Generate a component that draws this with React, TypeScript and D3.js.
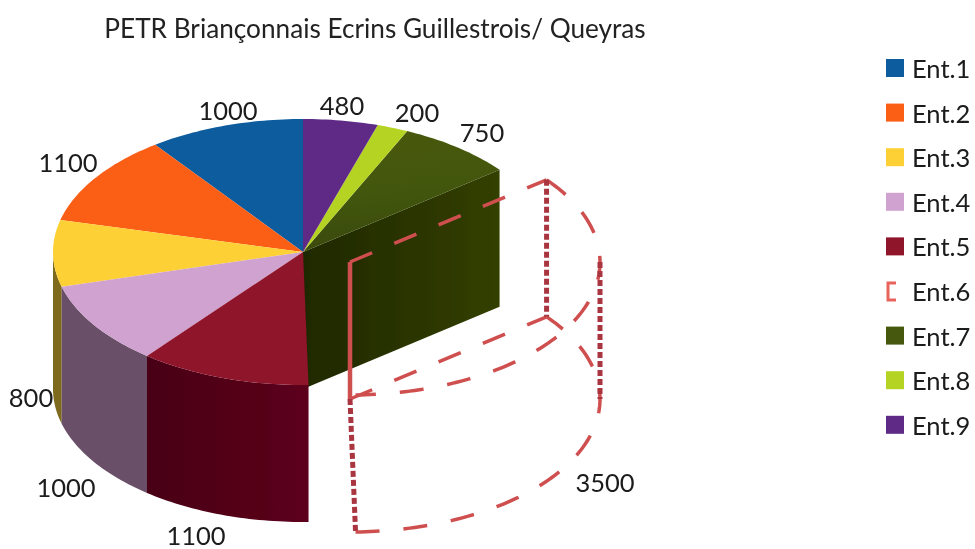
import React from "react";
import * as d3 from "d3";

const titleText = "PETR Briançonnais Ecrins Guillestrois/ Queyras";
const categories = ["Ent.1", "Ent.2", "Ent.3", "Ent.4", "Ent.5", "Ent.6", "Ent.7", "Ent.8", "Ent.9"];
const values = [1000, 1100, 800, 1000, 1100, 3500, 750, 200, 480];
const topColors = ["#0a5c9e", "#fb5e17", "#fdd134", "#cfa2d0", "#8f132b", "none", "url(#g7top)", "#b5d321", "#5e2c86"];
const sideColors = ["#063a66", "#9c3a0e", "#7d6b1e", "#6a5068", "url(#g5side)", "none", "#2a3500", "#70841a", "#3a1b55"];
const legendColors = ["#0a5c9e", "#fb5e17", "#fdd134", "#cfa2d0", "#8f132b", "#e8645c", "#455810", "#b5d321", "#5e2c86"];
// value label anchor points, in slice order
const labelX = [228, 68, 31, 66, 196, 605, 482, 417, 342];
const labelY = [110, 162, 397, 487, 535, 482, 132, 112, 105];

const WIDTH = 975;
const HEIGHT = 549;
const CX = 303;
const CY = 252;
const RX = 250;
const RY = 133;
const DEPTH = 137;
const EXPLODED = 5; // index of the wireframe slice
const EX = 47;
const EY = 10;

type P = [number, number];
const proj = (a: number, ox = 0, oy = 0): P => [CX + ox - RX * Math.sin(a), CY + oy - RY * Math.cos(a)];
const line = d3.line<P>();
const arcPts = (a0: number, a1: number, ox = 0, oy = 0): P[] => {
  const n = Math.max(2, Math.ceil(Math.abs(a1 - a0) / 0.02));
  return d3.range(n + 1).map((i) => proj(a0 + ((a1 - a0) * i) / n, ox, oy));
};

const arcs = d3.pie<number>().sort(null)(values);

export default function App() {
  const e7 = arcs[6];
  const e6 = arcs[EXPLODED];
  const cut: P[] = [
    [CX, CY],
    proj(e7.startAngle),
    proj(e7.startAngle, 0, DEPTH),
    [CX, CY + DEPTH],
  ];
  const apexTop: P = [CX + EX, CY + EY];
  const apexBot: P = [CX + EX, CY + EY + DEPTH];
  const wireDash = "24 24";
  const wireColor = "#cf4f50";
  const dotColor = "#a9353f";
  return (
    <svg
      width={WIDTH}
      height={HEIGHT}
      viewBox={`0 0 ${WIDTH} ${HEIGHT}`}
      style={{ position: "absolute", left: 0, top: 0, display: "block", background: "#fff" }}
      fontFamily="Lato, sans-serif"
    >
      <defs>
        <linearGradient id="g7top" x1="0" y1="0" x2="0.15" y2="1">
          <stop offset="0" stopColor="#485a10" />
          <stop offset="0.55" stopColor="#43560e" />
          <stop offset="1" stopColor="#3a4a08" />
        </linearGradient>
        <linearGradient id="g7cut" x1="0" y1="0" x2="1" y2="0">
          <stop offset="0" stopColor="#1f2800" />
          <stop offset="1" stopColor="#333f02" />
        </linearGradient>
        <linearGradient id="g5side" x1="0" y1="0" x2="1" y2="0">
          <stop offset="0" stopColor="#480012" />
          <stop offset="1" stopColor="#5c061c" />
        </linearGradient>
        <filter id="soft" x="-5%" y="-5%" width="110%" height="110%">
          <feGaussianBlur stdDeviation="0.7" />
        </filter>
      </defs>
      <g filter="url(#soft)">
        <text x={375} y={38} textAnchor="middle" fontSize={26.2} fill="#222">
          {titleText}
        </text>

        <path d={line(cut) + "Z"} fill="url(#g7cut)" />

        {arcs.map((d, i) => {
          if (i === EXPLODED) return null;
          const a0 = Math.max(d.startAngle, Math.PI / 2);
          const a1 = Math.min(d.endAngle, Math.PI * 1.5);
          if (a1 <= a0) return null;
          const front = arcPts(a0, a1);
          const back = arcPts(a1, a0, 0, DEPTH);
          return <path key={categories[i]} d={line([...front, ...back]) + "Z"} fill={sideColors[i]} />;
        })}

        {arcs.map((d, i) => {
          if (i === EXPLODED) return null;
          const pts: P[] = [[CX, CY], ...arcPts(d.startAngle, d.endAngle)];
          return <path key={categories[i]} d={line(pts) + "Z"} fill={topColors[i]} />;
        })}

        <g fill="none" stroke={wireColor} strokeWidth={3.5} strokeDasharray={wireDash}>
          <path d={line([apexTop, proj(e6.endAngle, EX, EY)]) ?? ""} />
          <path d={line(arcPts(e6.endAngle, e6.startAngle, EX, EY)) ?? ""} />
          <path d={line([apexBot, proj(e6.endAngle, EX, EY + DEPTH)]) ?? ""} />
          <path d={line(arcPts(e6.startAngle, e6.endAngle, EX, EY + DEPTH)) ?? ""} />
        </g>
        <g fill="none" stroke={wireColor} strokeWidth={4.5}>
          <path d={line([apexTop, apexBot]) ?? ""} />
        </g>
        <g fill="none" stroke={dotColor} strokeWidth={5} strokeDasharray="6 3">
          <path d={line([apexBot, proj(e6.startAngle, EX, EY + DEPTH)]) ?? ""} />
          <path d={line([proj(e6.endAngle, EX, EY), proj(e6.endAngle, EX, EY + DEPTH)]) ?? ""} />
          <path d={line([proj(Math.PI * 1.5, EX, EY), proj(Math.PI * 1.5, EX, EY + DEPTH)]) ?? ""} />
        </g>

        {values.map((v, i) => (
          <text
            key={categories[i]}
            x={labelX[i]}
            y={labelY[i]}
            textAnchor="middle"
            dominantBaseline="central"
            fontSize={25.5}
            fill="#1a1a1a"
          >
            {v}
          </text>
        ))}

        {categories.map((c, i) => {
          const y = 68 + i * 44.6;
          return (
            <g key={c}>
              {i === EXPLODED ? (
                <path
                  d={`M896,${y - 8}H888V${y + 9}H896`}
                  fill="none"
                  stroke={legendColors[i]}
                  strokeWidth={3}
                />
              ) : (
                <rect x={886} y={y - 9} width={18} height={18} fill={legendColors[i]} />
              )}
              <text x={912} y={y} dominantBaseline="central" fontSize={25.5} fill="#1a1a1a">
                {c}
              </text>
            </g>
          );
        })}
      </g>
    </svg>
  );
}
